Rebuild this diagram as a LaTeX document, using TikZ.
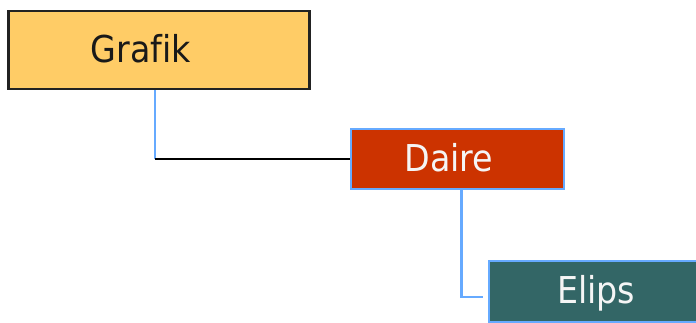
\documentclass[tikz,border=0pt]{standalone}
\usepackage{fontspec}
\setmainfont[Ligatures={NoCommon}]{DejaVu Sans Condensed}
\definecolor{grafikfill}{RGB}{255,204,102}
\definecolor{grafikborder}{RGB}{34,34,34}
\definecolor{dairefill}{RGB}{204,51,0}
\definecolor{elipsfill}{RGB}{51,102,102}
\definecolor{blueline}{RGB}{102,170,255}
\definecolor{lighttext}{RGB}{245,245,245}
\tikzset{
  boxbase/.style={rectangle, inner sep=0pt, line width=2.2pt},
  labeltext/.style={inner sep=0pt, anchor=base, font=\fontsize{37}{40}\selectfont},
  conn/.style={line width=2.2pt}
}
\begin{document}
\begin{tikzpicture}[x=1pt,y=-1pt]
\useasboundingbox (0,0) rectangle (696,323);
\begin{scope}
\clip (0,0) rectangle (696,323);
% boxes
\node[boxbase, draw=grafikborder, fill=grafikfill, minimum width=301pt, minimum height=78pt] (grafik) at (159,50) {};
\node[boxbase, draw=blueline, fill=dairefill, minimum width=213pt, minimum height=60pt] (daire) at (457.5,159) {};
\node[boxbase, draw=blueline, fill=elipsfill, minimum width=221pt, minimum height=61pt] (elips) at (599.5,291.5) {};
% texts
\node[labeltext, text=black!90] (tgrafik) at (141,63) {Grafik};
\node[labeltext, text=lighttext] (tdaire) at (449,172) {Daire};
\node[labeltext, text=lighttext] (telips) at (596,303) {Elips};
% connectors
\coordinate (c1) at (155,159);
\draw[conn, blueline] (grafik.south -| c1) -- (c1);
\draw[conn, black] (c1) -- (daire.west);
\coordinate (c2) at (461.5,297);
\draw[conn, blueline] (daire.south -| c2) -- (c2) -- ([xshift=-5pt]elips.west |- c2);
\end{scope}
\end{tikzpicture}
\end{document}
